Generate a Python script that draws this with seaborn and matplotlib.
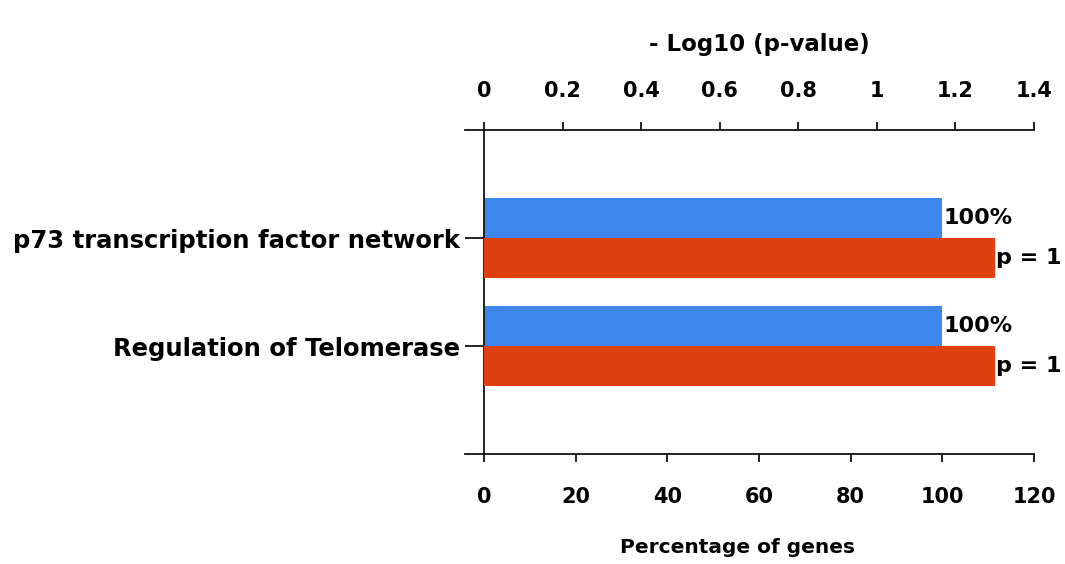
import numpy as np
import pandas as pd
import matplotlib
matplotlib.use("Agg")
import matplotlib.pyplot as plt
import seaborn as sns

# data
pathways = ["p73 transcription factor network", "Regulation of Telomerase"]
pct_genes = [100, 100]
neg_log_p = [1.3, 1.3]
pct_labels = ["100%", "100%"]
p_labels = ["p = 1", "p = 1"]

blue = "#3d87ec"
red = "#de4010"
series = ["pct", "logp"]

sns.set_style("white")
plt.rcParams["font.family"] = ["DejaVu Sans"]
plt.rcParams["font.weight"] = "bold"
for k in ("text.color", "axes.labelcolor", "xtick.labelcolor", "ytick.labelcolor"):
    plt.rcParams[k] = "black"
fs = 15
line_c = "#111111"

fig = plt.figure(figsize=(10.65, 5.64), dpi=100)
ax = fig.add_axes([0.4545, 0.195, 0.5164, 0.5745])
ax2 = ax.twiny()

# long tables: each axis gets its own series, the other one set to 0 so hue dodging lines up
df_pct = pd.DataFrame({"pathway": pathways * 2,
                       "series": [series[0]] * 2 + [series[1]] * 2,
                       "value": pct_genes + [0, 0]})
df_log = pd.DataFrame({"pathway": pathways * 2,
                       "series": [series[0]] * 2 + [series[1]] * 2,
                       "value": [0, 0] + neg_log_p})

sns.barplot(data=df_pct, x="value", y="pathway", hue="series", hue_order=series,
            palette=[blue, red], orient="h", width=0.74, dodge=True,
            linewidth=0, saturation=1, legend=False, ax=ax)
sns.barplot(data=df_log, x="value", y="pathway", hue="series", hue_order=series,
            palette=[blue, red], orient="h", width=0.74, dodge=True,
            linewidth=0, saturation=1, legend=False, ax=ax2)

# bar labels
ax.bar_label(ax.containers[0], labels=pct_labels, padding=1, fontsize=16,
             fontweight="bold", color="black")
ax2.bar_label(ax2.containers[1], labels=p_labels, padding=1, fontsize=16,
              fontweight="bold", color="black")
for p in ax.containers[1]:
    p.set_visible(False)
for p in ax2.containers[0]:
    p.set_visible(False)

ax.set_xlim(0, 120)
ax.set_xticks(np.arange(0, 121, 20))
ax2.set_xlim(0, 1.4)
ax2.set_xticks(np.arange(0, 1.41, 0.2))
ax2.set_xticklabels(["0", "0.2", "0.4", "0.6", "0.8", "1", "1.2", "1.4"])
ax.set_ylim(2, -1)

ax.set_ylabel("")
ax2.set_ylabel("")
ax.set_xlabel("Percentage of genes", fontsize=14.5, fontweight="bold")
ax2.set_xlabel("- Log10 (p-value)", fontsize=16.5, fontweight="bold")
ax.xaxis.set_label_coords(0.46, -0.258)
ax2.xaxis.set_label_coords(0.5, 1.245)

for a in (ax, ax2):
    for s in a.spines.values():
        s.set_visible(False)
ax.spines["left"].set_visible(True)
ax.spines["bottom"].set_visible(True)
ax2.spines["top"].set_visible(True)
ax.spines["bottom"].set_bounds(-4.1, 120)
ax2.spines["top"].set_bounds(-0.048, 1.4)
for s in (ax.spines["left"], ax.spines["bottom"], ax2.spines["top"]):
    s.set_color(line_c)
    s.set_linewidth(1.3)

ax.tick_params(axis="x", direction="out", length=6, width=1.3, color=line_c,
               pad=18, labelsize=fs, bottom=True)
ax2.tick_params(axis="x", direction="out", length=6, width=1.3, color=line_c,
                pad=15, labelsize=fs, top=True)
ax.tick_params(axis="y", direction="out", length=14, width=1.3, color=line_c,
               pad=3, labelsize=17.5, left=True)
for lbl in ax.get_xticklabels() + ax2.get_xticklabels() + ax.get_yticklabels():
    lbl.set_fontweight("bold")

fig.savefig("out.png", dpi=100, facecolor="white")
